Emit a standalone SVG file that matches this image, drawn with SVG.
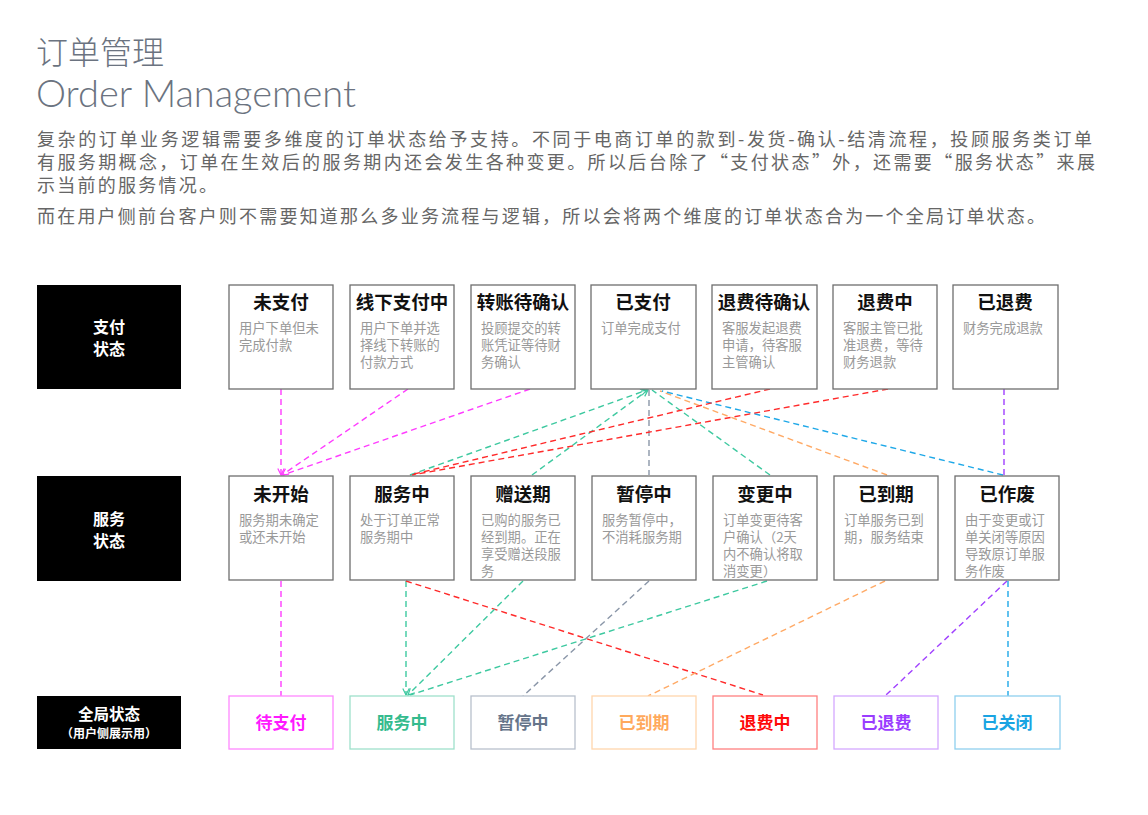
<svg xmlns="http://www.w3.org/2000/svg" width="1148" height="815" viewBox="0 0 1148 815">
<defs>
<style>
.t1{font-family:"Noto Sans CJK SC","Noto Sans",sans-serif;font-weight:300;fill:#6b7380}
.en{font-family:Lato,"Liberation Sans",sans-serif;font-weight:300;fill:#6b7380}
.p{font-family:"Noto Sans CJK SC",sans-serif;font-size:18px;fill:#666}
.box{fill:#fff;stroke:#6e6e6e;stroke-width:1.3}
.blk{fill:#000}
.bt{font-family:"Noto Sans CJK SC",sans-serif;font-weight:700;fill:#fff;text-anchor:middle}
.ttl{font-family:"Noto Sans CJK SC",sans-serif;font-weight:700;font-size:18.5px;fill:#111;text-anchor:middle}
.d{font-family:"Noto Sans CJK SC",sans-serif;font-size:13.3px;fill:#999}
.g{font-family:"Noto Sans CJK SC",sans-serif;font-weight:700;font-size:17px;text-anchor:middle}
.c{fill:none;stroke-width:1.4;stroke-dasharray:6 4}
</style>
<marker id="ah" viewBox="0 0 10 10" refX="9" refY="5" markerWidth="8" markerHeight="8" orient="auto" markerUnits="userSpaceOnUse"><path d="M1,1 L9,5 L1,9" fill="none" stroke="context-stroke" stroke-width="1.5"/></marker>
</defs>
<rect width="1148" height="815" fill="#fff"/>

<g id="header">
<text class="t1" x="36" y="64" font-size="32">订单管理</text>
<text class="en" x="36" y="107" font-size="37" textLength="320" lengthAdjust="spacingAndGlyphs">Order Management</text>
<text class="p" x="37" y="146" textLength="1055" lengthAdjust="spacing">复杂的订单业务逻辑需要多维度的订单状态给予支持。不同于电商订单的款到-发货-确认-结清流程，投顾服务类订单</text>
<text class="p" x="37" y="169" textLength="1058" lengthAdjust="spacing">有服务期概念，订单在生效后的服务期内还会发生各种变更。所以后台除了“支付状态”外，还需要“服务状态”来展</text>
<text class="p" x="37" y="192" textLength="180" lengthAdjust="spacing">示当前的服务情况。</text>
<text class="p" x="37" y="223" textLength="1008" lengthAdjust="spacing">而在用户侧前台客户则不需要知道那么多业务流程与逻辑，所以会将两个维度的订单状态合为一个全局订单状态。</text>
</g>

<g id="row-pay-label"><rect class="blk" x="37" y="285" width="144" height="104"/><text class="bt" x="109" y="333" font-size="16">支付</text><text class="bt" x="109" y="355" font-size="16">状态</text></g>
<g id="row-svc-label"><rect class="blk" x="37" y="476" width="144" height="105"/><text class="bt" x="109" y="525" font-size="16">服务</text><text class="bt" x="109" y="547" font-size="16">状态</text></g>
<g id="row-global-label"><rect class="blk" x="37" y="696" width="144" height="53"/><text class="bt" x="109" y="720" font-size="15.5">全局状态</text><text class="bt" x="109" y="738" font-size="12">（用户侧展示用）</text></g>

<g id="connectors">
<line class="c" stroke="#ff3cff" x1="281" y1="389" x2="281" y2="475" marker-end="url(#ah)"/>
<line class="c" stroke="#ff3cff" x1="408" y1="389" x2="282" y2="475" marker-end="url(#ah)"/>
<line class="c" stroke="#ff3cff" x1="530" y1="389" x2="283" y2="475"/>
<line class="c" stroke="#3ec9a0" x1="410" y1="475" x2="647" y2="390" marker-end="url(#ah)"/>
<line class="c" stroke="#3ec9a0" x1="532" y1="475" x2="648" y2="390" marker-end="url(#ah)"/>
<line class="c" stroke="#8a96a8" x1="649" y1="390" x2="649" y2="475"/>
<line class="c" stroke="#3ec9a0" x1="770" y1="475" x2="652" y2="390"/>
<line class="c" stroke="#ffaa66" x1="887" y1="475" x2="660" y2="391"/>
<line class="c" stroke="#1ea8e8" x1="1003" y1="475" x2="662" y2="391"/>
<line class="c" stroke="#ff2a2a" x1="770" y1="389" x2="410" y2="475"/>
<line class="c" stroke="#ff2a2a" x1="888" y1="389" x2="412" y2="475"/>
<line class="c" stroke="#a040ff" x1="1004" y1="389" x2="1004" y2="475"/>

<line class="c" stroke="#ff3cff" x1="281" y1="581" x2="281" y2="696"/>
<line class="c" stroke="#3ec9a0" x1="406" y1="581" x2="406" y2="695" marker-end="url(#ah)"/>
<line class="c" stroke="#ff2a2a" x1="406" y1="581" x2="763" y2="695"/>
<line class="c" stroke="#3ec9a0" x1="523" y1="581" x2="408" y2="695" marker-end="url(#ah)"/>
<line class="c" stroke="#3ec9a0" x1="767" y1="581" x2="410" y2="695"/>
<line class="c" stroke="#8a96a8" x1="649" y1="581" x2="523" y2="696"/>
<line class="c" stroke="#ffaa66" x1="885" y1="581" x2="648" y2="696"/>
<line class="c" stroke="#a040ff" x1="1007" y1="581" x2="885" y2="696"/>
<line class="c" stroke="#1ea8e8" x1="1008" y1="581" x2="1008" y2="696"/>
</g>

<g id="p1"><rect class="box" x="229" y="285" width="104" height="104"/><text class="ttl" x="281" y="309">未支付</text><text class="d" x="239" y="333">用户下单但未</text><text class="d" x="239" y="350">完成付款</text></g>
<g id="p2"><rect class="box" x="350" y="285" width="104" height="104"/><text class="ttl" x="402" y="309">线下支付中</text><text class="d" x="360" y="333">用户下单并选</text><text class="d" x="360" y="350">择线下转账的</text><text class="d" x="360" y="367">付款方式</text></g>
<g id="p3"><rect class="box" x="471" y="285" width="104" height="104"/><text class="ttl" x="523" y="309">转账待确认</text><text class="d" x="481" y="333">投顾提交的转</text><text class="d" x="481" y="350">账凭证等待财</text><text class="d" x="481" y="367">务确认</text></g>
<g id="p4"><rect class="box" x="591" y="285" width="105" height="104"/><text class="ttl" x="643" y="309">已支付</text><text class="d" x="601" y="333">订单完成支付</text></g>
<g id="p5"><rect class="box" x="712" y="285" width="105" height="104"/><text class="ttl" x="764" y="309">退费待确认</text><text class="d" x="722" y="333">客服发起退费</text><text class="d" x="722" y="350">申请，待客服</text><text class="d" x="722" y="367">主管确认</text></g>
<g id="p6"><rect class="box" x="833" y="285" width="104" height="104"/><text class="ttl" x="885" y="309">退费中</text><text class="d" x="843" y="333">客服主管已批</text><text class="d" x="843" y="350">准退费，等待</text><text class="d" x="843" y="367">财务退款</text></g>
<g id="p7"><rect class="box" x="953" y="285" width="105" height="104"/><text class="ttl" x="1005" y="309">已退费</text><text class="d" x="963" y="333">财务完成退款</text></g>

<g id="s1"><rect class="box" x="229" y="476" width="104" height="104"/><text class="ttl" x="281" y="501">未开始</text><text class="d" x="239" y="525">服务期未确定</text><text class="d" x="239" y="542">或还未开始</text></g>
<g id="s2"><rect class="box" x="350" y="476" width="104" height="104"/><text class="ttl" x="402" y="501">服务中</text><text class="d" x="360" y="525">处于订单正常</text><text class="d" x="360" y="542">服务期中</text></g>
<g id="s3"><rect class="box" x="471" y="476" width="104" height="104"/><text class="ttl" x="523" y="501">赠送期</text><text class="d" x="481" y="525">已购的服务已</text><text class="d" x="481" y="542">经到期。正在</text><text class="d" x="481" y="559">享受赠送段服</text><text class="d" x="481" y="576">务</text></g>
<g id="s4"><rect class="box" x="592" y="476" width="104" height="104"/><text class="ttl" x="644" y="501">暂停中</text><text class="d" x="602" y="525">服务暂停中，</text><text class="d" x="602" y="542">不消耗服务期</text></g>
<g id="s5"><rect class="box" x="713" y="476" width="104" height="104"/><text class="ttl" x="765" y="501">变更中</text><text class="d" x="723" y="525">订单变更待客</text><text class="d" x="723" y="542">户确认（2天</text><text class="d" x="723" y="559">内不确认将取</text><text class="d" x="723" y="576">消变更）</text></g>
<g id="s6"><rect class="box" x="834" y="476" width="104" height="104"/><text class="ttl" x="886" y="501">已到期</text><text class="d" x="844" y="525">订单服务已到</text><text class="d" x="844" y="542">期，服务结束</text></g>
<g id="s7"><rect class="box" x="955" y="476" width="104" height="104"/><text class="ttl" x="1007" y="501">已作废</text><text class="d" x="965" y="525">由于变更或订</text><text class="d" x="965" y="542">单关闭等原因</text><text class="d" x="965" y="559">导致原订单服</text><text class="d" x="965" y="576">务作废</text></g>

<g id="g1"><rect x="229" y="696" width="104" height="53" fill="#fff" stroke="#ff88ff" stroke-width="1.3"/><text class="g" x="281" y="729" fill="#ff1aff">待支付</text></g>
<g id="g2"><rect x="350" y="696" width="104" height="53" fill="#fff" stroke="#9fe0cb" stroke-width="1.3"/><text class="g" x="402" y="729" fill="#35bb8e">服务中</text></g>
<g id="g3"><rect x="471" y="696" width="104" height="53" fill="#fff" stroke="#b8c0cc" stroke-width="1.3"/><text class="g" x="523" y="729" fill="#66758a">暂停中</text></g>
<g id="g4"><rect x="592" y="696" width="104" height="53" fill="#fff" stroke="#ffd6ad" stroke-width="1.3"/><text class="g" x="644" y="729" fill="#ffa95c">已到期</text></g>
<g id="g5"><rect x="713" y="696" width="104" height="53" fill="#fff" stroke="#ff8080" stroke-width="1.3"/><text class="g" x="765" y="729" fill="#ff0a0a">退费中</text></g>
<g id="g6"><rect x="834" y="696" width="104" height="53" fill="#fff" stroke="#d4a8ff" stroke-width="1.3"/><text class="g" x="886" y="729" fill="#9a3cff">已退费</text></g>
<g id="g7"><rect x="955" y="696" width="105" height="53" fill="#fff" stroke="#8fd0ef" stroke-width="1.3"/><text class="g" x="1007" y="729" fill="#1aa4e2">已关闭</text></g>
</svg>
